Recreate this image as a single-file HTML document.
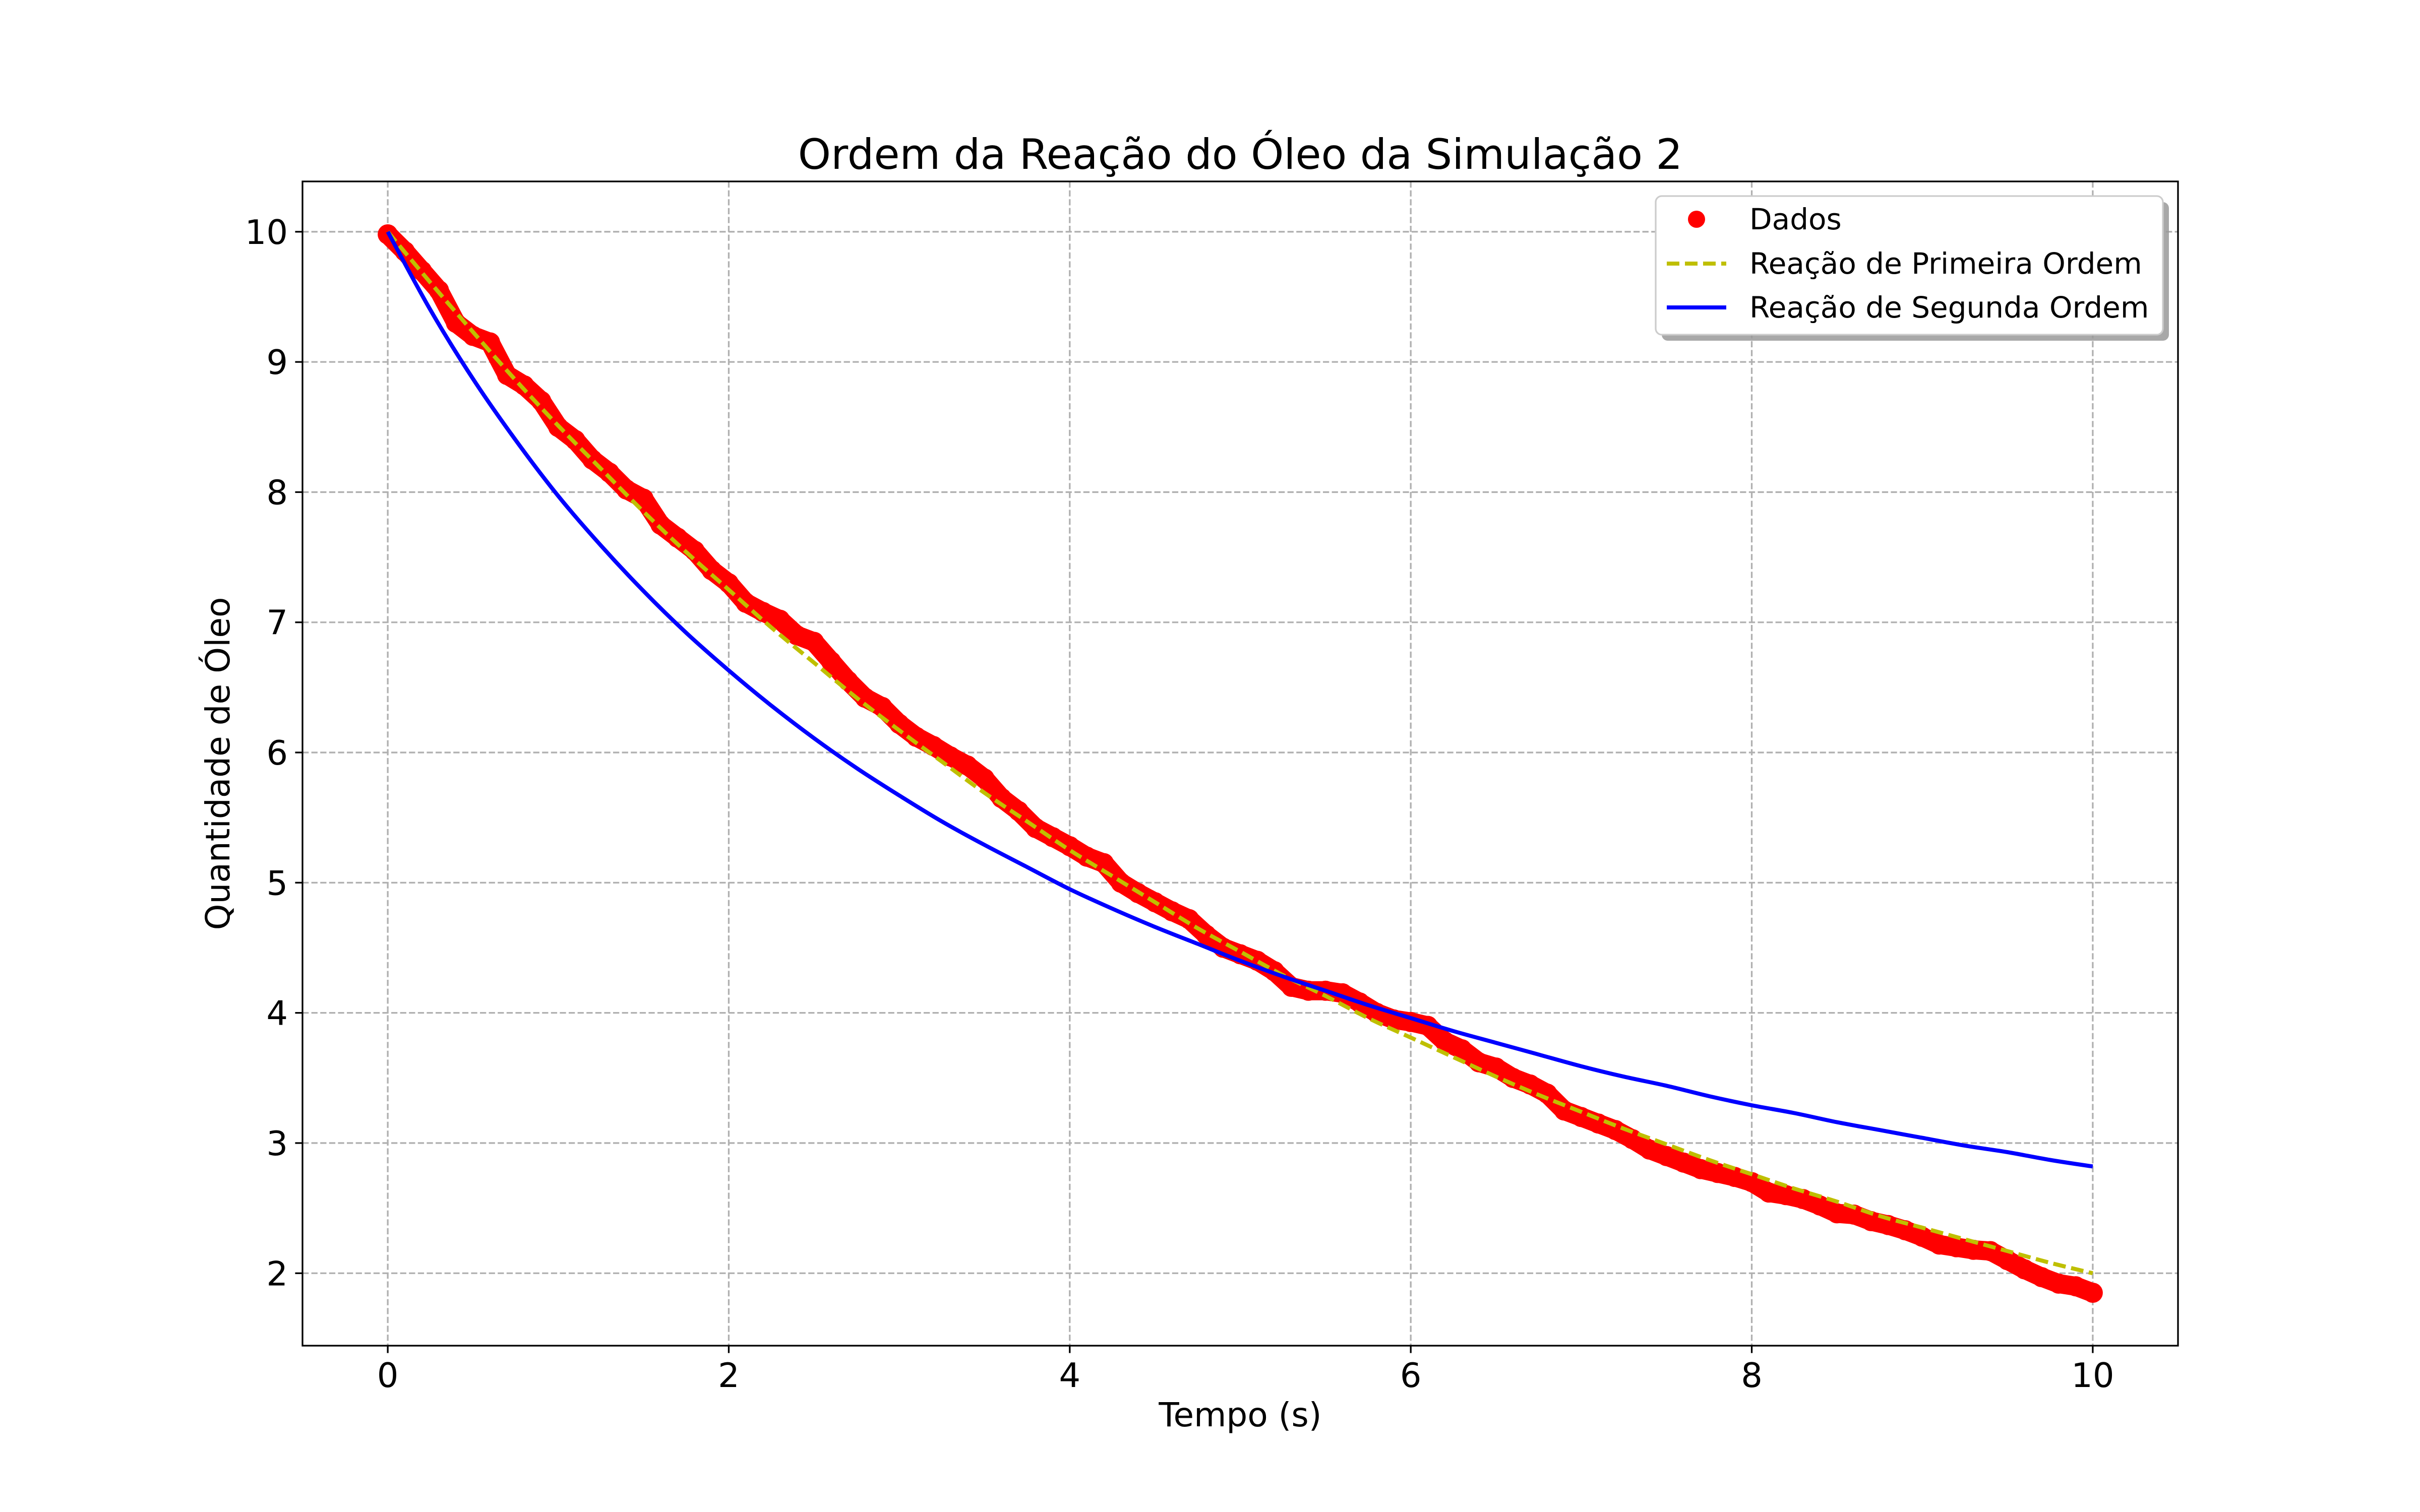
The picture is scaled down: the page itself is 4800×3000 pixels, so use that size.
<!DOCTYPE html>
<html><head><meta charset="utf-8">
<style>
html,body{margin:0;padding:0;background:#fff;}
svg{display:block;}
text{font-family:"DejaVu Sans","Liberation Sans",sans-serif;fill:#000;}
</style></head>
<body>
<svg id="chart" width="4800" height="3000" viewBox="0 0 4800 3000" xmlns="http://www.w3.org/2000/svg">
<rect x="0" y="0" width="4800" height="3000" fill="#fff"/>
<g id="grid"></g>
<g id="series"></g>
<rect x="600" y="360" width="3720" height="2310" fill="none" stroke="#000" stroke-width="3.3"/>
<g id="ticks"></g>
<text x="2460" y="335" font-size="83" text-anchor="middle">Ordem da Reação do Óleo da Simulação 2</text>
<text x="2460" y="2830" font-size="66" text-anchor="middle">Tempo (s)</text>
<text x="0" y="0" font-size="66" text-anchor="middle" transform="translate(455,1515) rotate(-90)">Quantidade de Óleo</text>
<g id="legend">
<rect x="3296" y="401" width="1006" height="275" rx="12" fill="#999" opacity="0.85"/>
<rect x="3284" y="389" width="1006" height="275" rx="12" fill="#fff" stroke="#ccc" stroke-width="3.3"/>
<circle cx="3365" cy="435" r="17" fill="#ff0000"/>
<text x="3470" y="455" font-size="58">Dados</text>
<line x1="3306" y1="523" x2="3424" y2="523" stroke="#bfbf00" stroke-width="8" stroke-dasharray="25,11"/>
<text x="3470" y="543" font-size="58">Reação de Primeira Ordem</text>
<line x1="3306" y1="610" x2="3424" y2="610" stroke="#0000ff" stroke-width="8"/>
<text x="3470" y="630" font-size="58">Reação de Segunda Ordem</text>
</g>
</svg>
<script>
const xTicks = [0, 2, 4, 6, 8, 10];
const yTicks = [2, 3, 4, 5, 6, 7, 8, 9, 10];
const dataT = [0,0.1,0.2,0.3,0.4,0.5,0.6,0.7,0.8,0.9,1.0,1.1,1.2,1.3,1.4,1.5,1.6,1.7,1.8,1.9,2.0,2.1,2.2,2.3,2.4,2.5,2.6,2.7,2.8,2.9,3.0,3.1,3.2,3.3,3.4,3.5,3.6,3.7,3.8,3.9,4.0,4.1,4.2,4.3,4.4,4.5,4.6,4.7,4.8,4.9,5.0,5.1,5.2,5.3,5.4,5.5,5.6,5.7,5.8,5.9,6.0,6.1,6.2,6.3,6.4,6.5,6.6,6.7,6.8,6.9,7.0,7.1,7.2,7.3,7.4,7.5,7.6,7.7,7.8,7.9,8.0,8.1,8.2,8.3,8.4,8.5,8.6,8.7,8.8,8.9,9.0,9.1,9.2,9.3,9.4,9.5,9.6,9.7,9.8,9.9,10.0];
const dataY = [9.98,9.85,9.7,9.55,9.3,9.2,9.15,8.9,8.82,8.7,8.5,8.4,8.25,8.15,8.02,7.95,7.75,7.65,7.55,7.4,7.3,7.15,7.08,7.02,6.9,6.85,6.7,6.55,6.42,6.35,6.22,6.12,6.05,5.97,5.9,5.8,5.65,5.55,5.42,5.35,5.28,5.2,5.15,5.0,4.92,4.85,4.78,4.72,4.6,4.5,4.45,4.4,4.32,4.2,4.17,4.17,4.15,4.08,4.0,3.95,3.93,3.9,3.78,3.72,3.62,3.58,3.5,3.45,3.38,3.25,3.2,3.15,3.1,3.03,2.95,2.9,2.85,2.8,2.77,2.74,2.7,2.62,2.6,2.57,2.52,2.46,2.45,2.4,2.37,2.33,2.28,2.22,2.2,2.18,2.17,2.1,2.03,1.97,1.92,1.9,1.85];
const fitT = [0,0.25,0.5,0.75,1,1.25,1.5,1.75,2,2.25,2.5,2.75,3,3.25,3.5,3.75,4,4.25,4.5,4.75,5,5.25,5.5,5.75,6,6.25,6.5,6.75,7,7.25,7.5,7.75,8,8.25,8.5,8.75,9,9.25,9.5,9.75,10];
const firstOrder = [10,9.61,9.23,8.86,8.51,8.18,7.85,7.54,7.25,6.96,6.69,6.42,6.17,5.93,5.69,5.47,5.25,5.05,4.85,4.65,4.47,4.29,4.13,3.96,3.81,3.66,3.51,3.37,3.24,3.11,2.99,2.87,2.76,2.65,2.55,2.44,2.35,2.26,2.17,2.08,2.00];
const secondOrder = [10,9.40,8.87,8.40,7.97,7.59,7.24,6.92,6.63,6.36,6.11,5.88,5.67,5.47,5.29,5.12,4.95,4.80,4.66,4.53,4.40,4.28,4.17,4.06,3.96,3.86,3.77,3.68,3.59,3.51,3.44,3.36,3.29,3.23,3.16,3.10,3.04,2.98,2.93,2.87,2.82];

const NS = "http://www.w3.org/2000/svg";
const AX = {left:600, right:4320, top:360, bottom:2670, xmin:-0.5, xmax:10.5, ymin:1.4435, ymax:10.3865};
function sx(v){ return AX.left + (v - AX.xmin) / (AX.xmax - AX.xmin) * (AX.right - AX.left); }
function sy(v){ return AX.bottom - (v - AX.ymin) / (AX.ymax - AX.ymin) * (AX.bottom - AX.top); }
function mk(tag, attrs, parent){ const e = document.createElementNS(NS, tag); for (const k in attrs) e.setAttribute(k, attrs[k]); parent.appendChild(e); return e; }
function smoothPath(xs, ys){
  const P = xs.map((t,i) => [sx(t), sy(ys[i])]);
  let d = 'M' + P[0][0].toFixed(1) + ',' + P[0][1].toFixed(1);
  for (let i = 0; i < P.length - 1; i++) {
    const p0 = P[Math.max(0,i-1)], p1 = P[i], p2 = P[i+1], p3 = P[Math.min(P.length-1,i+2)];
    const c1x = p1[0] + (p2[0]-p0[0])/6, c1y = p1[1] + (p2[1]-p0[1])/6;
    const c2x = p2[0] - (p3[0]-p1[0])/6, c2y = p2[1] - (p3[1]-p1[1])/6;
    d += ' C' + c1x.toFixed(1) + ',' + c1y.toFixed(1) + ' ' + c2x.toFixed(1) + ',' + c2y.toFixed(1) + ' ' + p2[0].toFixed(1) + ',' + p2[1].toFixed(1);
  }
  return d;
}

const grid = document.getElementById('grid');
const ticks = document.getElementById('ticks');
const series = document.getElementById('series');

xTicks.forEach(v => {
  const x = sx(v);
  const g = mk('line', {x1:x, y1:AX.top, x2:x, y2:AX.bottom, stroke:'#b0b0b0', 'stroke-width':3.3, 'stroke-dasharray':'12.3,5.3'}, grid);
  
  
  const t = mk('line', {x1:x, y1:AX.bottom, x2:x, y2:AX.bottom + 14.6, stroke:'#000', 'stroke-width':3.3}, ticks);
  
  
  const l = mk('text', {x:x, y:2752, 'font-size':67, 'text-anchor':'middle'}, ticks);
  l.textContent = String(v);
  
  
});
yTicks.forEach(v => {
  const y = sy(v);
  const g = mk('line', {x1:AX.left, y1:y, x2:AX.right, y2:y, stroke:'#b0b0b0', 'stroke-width':3.3, 'stroke-dasharray':'12.3,5.3'}, grid);
  
  
  const t = mk('line', {x1:AX.left - 14.6, y1:y, x2:AX.left, y2:y, stroke:'#000', 'stroke-width':3.3}, ticks);
  
  
  const l = mk('text', {x:AX.left - 29, y:y + 24, 'font-size':67, 'text-anchor':'end'}, ticks);
  l.textContent = String(v);
  
  
});

const dpts = dataT.map((t,i) => sx(t).toFixed(1) + ',' + sy(dataY[i]).toFixed(1)).join(' ');
const dl = mk('polyline', {points:dpts, fill:'none', stroke:'#ff0000', 'stroke-width':38, 'stroke-linejoin':'round', 'stroke-linecap':'round'}, series);


dataT.forEach((t,i) => {
  const c = mk('circle', {cx:sx(t), cy:sy(dataY[i]), r:20, fill:'#ff0000'}, series);
  
  
});
const l1 = mk('path', {d:smoothPath(fitT, firstOrder), fill:'none', stroke:'#bfbf00', 'stroke-width':8, 'stroke-dasharray':'25,11'}, series);


const l2 = mk('path', {d:smoothPath(fitT, secondOrder), fill:'none', stroke:'#0000ff', 'stroke-width':8}, series);


</script>
</body></html>
